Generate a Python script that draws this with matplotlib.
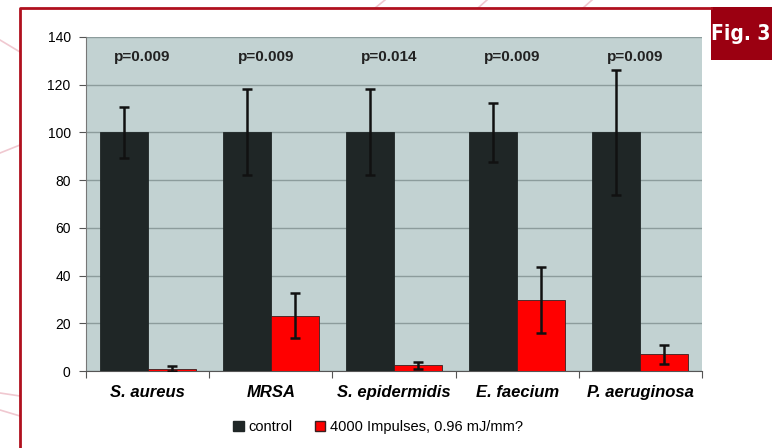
import numpy as np
import matplotlib
matplotlib.use('Agg')
import matplotlib.pyplot as plt
from matplotlib.lines import Line2D
from matplotlib.patches import Rectangle, Patch

plt.rcParams['font.family'] = ['Liberation Sans', 'DejaVu Sans']

# data
species = ['S. aureus', 'MRSA', 'S. epidermidis', 'E. faecium', 'P. aeruginosa']
control = [100, 100, 100, 100, 100]
control_err = [10.7, 18, 18, 12.2, 26.3]
treated = [1.0, 23.2, 2.4, 29.8, 7.0]
treated_err = [1.0, 9.3, 1.4, 13.9, 4.0]
p_values = ['p=0.009', 'p=0.009', 'p=0.014', 'p=0.009', 'p=0.009']
legend_labels = ['control', '4000 Impulses, 0.96 mJ/mm?']

fig = plt.figure(figsize=(7.72, 4.48), dpi=100)

# decorative faint lines in background
deco = [((0, 40), (20, 52)), ((0, 153), (20, 145)), ((0, 393), (20, 396)),
        ((0, 410), (20, 416)), ((375, 8), (385, 0)), ((478, 8), (487, 0)),
        ((583, 8), (592, 0))]
for (x0, y0), (x1, y1) in deco:
    fig.add_artist(Line2D([x0 / 772, x1 / 772], [1 - y0 / 448, 1 - y1 / 448],
                          color='#f0c8d0', lw=1.2))

# red frame
fig.add_artist(Line2D([20 / 772, 20 / 772, 711 / 772], [0, 1 - 8 / 448, 1 - 8 / 448],
                      color='#b0101e', lw=2))
fig.add_artist(Rectangle((711 / 772, 1 - 60 / 448), 61 / 772, 53 / 448,
                         transform=fig.transFigure, color='#9b0011', lw=0))
fig.text(741 / 772, 1 - 34 / 448, 'Fig. 3', color='white', fontsize=15,
         fontweight='bold', fontstretch='condensed',
         family=['DejaVu Sans'], va='center', ha='center')

ax = fig.add_axes([86 / 772, 1 - 371 / 448, 616 / 772, 334 / 448])
ax.set_facecolor('#c2d2d2')

x = np.arange(len(species))
w = 0.39
ekw = dict(elinewidth=1.8, capthick=1.8, ecolor='#111111')
ax.bar(x - w / 2, control, w, color='#1f2626', edgecolor='#1f2626', lw=0.6,
       yerr=control_err, capsize=3.6, error_kw=ekw, zorder=3)
ax.bar(x + w / 2, treated, w, color='#ff0000', edgecolor='#3a2020', lw=0.6,
       yerr=treated_err, capsize=3.6, error_kw=ekw, zorder=3)

for xi, p in zip(x, p_values):
    ax.text(xi - 0.04, 131.5, p, ha='center', va='center', fontsize=11,
            fontweight='bold', color='#222222')

ax.set_xlim(-0.5, len(species) - 0.5)
ax.set_ylim(0, 140)
ax.set_yticks(np.arange(0, 141, 20))
ax.yaxis.grid(True, color='#8c9c9c', lw=1, zorder=0)
ax.set_xticks(np.arange(-0.5, len(species), 1))
ax.set_xticklabels([])
ax.set_xticks(x, minor=True)
ax.set_xticklabels(species, minor=True, fontsize=12, fontweight='bold', style='italic')
ax.tick_params(axis='x', which='minor', length=0, pad=10)
ax.tick_params(axis='x', which='major', length=5, color='#555555', direction='out')
ax.tick_params(axis='y', length=5, color='#555555', labelsize=10, pad=6)
for s in ['top', 'right']:
    ax.spines[s].set_visible(False)
ax.spines['left'].set_color('#777777')
ax.spines['bottom'].set_color('#555555')

handles = [Patch(facecolor='#1f2626', edgecolor='#1f2626'),
           Patch(facecolor='#ff0000', edgecolor='#3a2020')]
fig.legend(handles, legend_labels, loc='center', bbox_to_anchor=(378 / 772, 1 - 427 / 448),
           ncol=2, frameon=False, fontsize=10.5, handlelength=0.75, handleheight=0.75,
           handletextpad=0.3, columnspacing=1.5)

fig.savefig('out.png', dpi=100)
